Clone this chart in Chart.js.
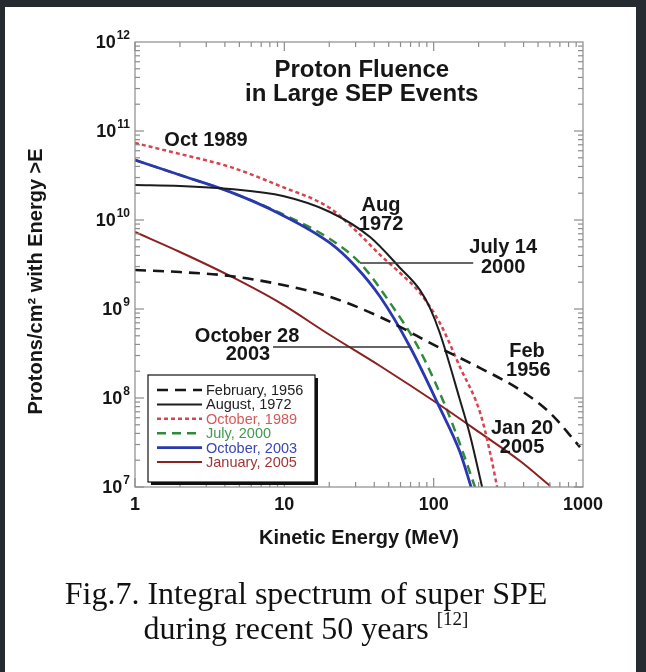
<!DOCTYPE html>
<html>
<head>
<meta charset="utf-8">
<script src="https://cdn.jsdelivr.net/npm/chart.js@4.4.1/dist/chart.umd.min.js"></script>
<style>
  html, body { margin: 0; padding: 0; background: #262b32; }
  #panel { position: absolute; left: 5px; top: 7px; width: 631px; height: 665px; background: #fff; }
  #myChart { position: absolute; left: 0; top: 0; }
  .cap { position: absolute; left: 0; width: 612px; text-align: center; line-height: 36px;
         font-family: "Liberation Serif", "Times New Roman", serif; font-size: 32px; color: #111; }
  .cap sup { font-size: 19px; vertical-align: 14px; line-height: 0; }
</style>
</head>
<body>
<div id="panel"></div>
<canvas id="myChart" width="646" height="672"></canvas>
<div class="cap" style="top:575px">Fig.7. Integral spectrum of super SPE</div>
<div class="cap" style="top:610px">during recent 50 years <sup>[12]</sup></div>
<script>
// values (energy in MeV, fluence in protons/cm2)
const xTicks = [1, 10, 100, 1000];
const yExponents = [7, 8, 9, 10, 11, 12];

const feb1956E = [1, 2, 4.33, 9.8, 20.2, 43.8, 110, 205, 379, 602, 955];
const feb1956F = [2.74e9, 2.6e9, 2.35e9, 1.86e9, 1.37e9, 8.13e8, 3.65e8, 2.17e8, 1.23e8, 6.78e7, 2.81e7];

const aug1972E = [1, 2, 4.33, 9.8, 20.2, 37.5, 59.6, 81, 94.4, 110, 150, 175, 211];
const aug1972F = [2.47e10, 2.41e10, 2.23e10, 1.86e10, 1.23e10, 6.44e9, 2.89e9, 1.63e9, 1.03e9, 5.37e8, 9.5e7, 3.84e7, 1e7];

const oct1989E = [1, 2, 4.33, 9.36, 20.2, 29.8, 43.8, 59.6, 81, 110, 150, 205, 239, 266];
const oct1989F = [7.33e10, 5.52e10, 3.95e10, 2.41e10, 1.36e10, 7.72e9, 4.05e9, 2.54e9, 1.51e9, 6.97e8, 2.23e8, 6.78e7, 2.41e7, 1e7];

const jul2000E = [1, 2, 4.33, 9.36, 20.2, 32.1, 51.1, 78.6, 119, 155, 189];
const jul2000F = [4.72e10, 3.2e10, 2.07e10, 1.2e10, 6.12e9, 3.29e9, 1.17e9, 3.74e8, 8.34e7, 2.61e7, 1e7];

const oct2003E = [1, 2, 4.33, 9.36, 20.2, 29.8, 43.8, 69.5, 110, 150, 178];
const oct2003F = [4.72e10, 3.2e10, 2.07e10, 1.17e10, 5.52e9, 3.04e9, 1.37e9, 3.74e8, 7.73e7, 2.47e7, 1e7];

const jan2005E = [1, 2, 4.33, 9.36, 20.2, 43.8, 110, 205, 379, 602];
const jan2005F = [7.33e9, 4.37e9, 2.35e9, 1.17e9, 5.1e8, 2.29e8, 8.34e7, 4.05e7, 1.96e7, 1.03e7];

const seriesLabels = ['February, 1956', 'August, 1972', 'October, 1989', 'July, 2000', 'October, 2003', 'January, 2005'];

function pts(E, F) {
    return E.map((e, i) => ({ x: e, y: F[i] }));
}

const SANS = '"Liberation Sans", Arial, Helvetica, sans-serif';

function line(ctx, x1, y1, x2, y2) {
    ctx.beginPath();
    ctx.moveTo(x1, y1);
    ctx.lineTo(x2, y2);
    ctx.stroke();
}

// frame with inward ticks on all four sides
const frameTicks = {
    id: 'frameTicks',
    afterDatasetsDraw(chart) {
        const { ctx, chartArea: a, scales: { x, y } } = chart;
        ctx.save();
        ctx.strokeStyle = '#8c8c8c';
        ctx.lineWidth = 1.2;
        ctx.strokeRect(a.left, a.top, a.right - a.left, a.bottom - a.top);
        for (let d = 0; d < 3; d++) {
            for (let m = 1; m <= 9; m++) {
                const px = x.getPixelForValue(m * Math.pow(10, d));
                const len = m === 1 ? 9 : 5;
                line(ctx, px, a.bottom, px, a.bottom - len);
                line(ctx, px, a.top, px, a.top + len);
            }
        }
        for (let d = 7; d < 12; d++) {
            for (let m = 1; m <= 9; m++) {
                const py = y.getPixelForValue(m * Math.pow(10, d));
                const len = m === 1 ? 9 : 5;
                line(ctx, a.left, py, a.left + len, py);
                line(ctx, a.right, py, a.right - len, py);
            }
        }
        ctx.restore();
    }
};

// y tick labels with exponents, axis titles, annotations, legend
const textLayer = {
    id: 'textLayer',
    afterDraw(chart) {
        const { ctx, chartArea: a, scales: { x, y } } = chart;
        const X = v => x.getPixelForValue(v);
        const Y = v => y.getPixelForValue(v);
        ctx.save();
        ctx.fillStyle = '#161616';

        // y tick labels
        yExponents.forEach(e => {
            const py = Y(Math.pow(10, e));
            const ex = String(e);
            ctx.font = 'bold 12px ' + SANS;
            const ew = ctx.measureText(ex).width;
            ctx.textAlign = 'left';
            ctx.textBaseline = 'middle';
            ctx.fillText(ex, a.left - 5 - ew, py - 6);
            ctx.font = 'bold 18px ' + SANS;
            ctx.textAlign = 'right';
            ctx.fillText('10', a.left - 6 - ew, py + 1);
        });

        // axis titles
        ctx.font = 'bold 20px ' + SANS;
        ctx.textAlign = 'center';
        ctx.textBaseline = 'middle';
        ctx.fillText('Kinetic Energy (MeV)', (a.left + a.right) / 2, a.bottom + 51);
        ctx.save();
        ctx.translate(36, (a.top + a.bottom) / 2 + 17);
        ctx.rotate(-Math.PI / 2);
        ctx.fillText('Protons/cm² with Energy >E', 0, 0);
        ctx.restore();

        // annotations
        const notes = [
            ['Proton Fluence', 33, 4.8e11, 24],
            ['in Large SEP Events', 33, 2.6e11, 24],
            ['Oct 1989', 2.99, 7.9e10, 20],
            ['Aug', 44.4, 1.44e10, 20],
            ['1972', 44.4, 9.0e9, 20],
            ['July 14', 292, 4.85e9, 20],
            ['2000', 292, 2.9e9, 20],
            ['October 28', 5.63, 4.97e8, 20],
            ['2003', 5.7, 3.12e8, 20],
            ['Feb', 422, 3.37e8, 20],
            ['1956', 430, 2.06e8, 20],
            ['Jan 20', 391, 4.6e7, 20],
            ['2005', 391, 2.8e7, 20]
        ];
        notes.forEach(([t, e, f, s]) => {
            ctx.font = 'bold ' + s + 'px ' + SANS;
            ctx.fillText(t, X(e), Y(f));
        });
        ctx.strokeStyle = '#333';
        ctx.lineWidth = 1.5;
        line(ctx, X(32), Y(3.29e9), X(184), Y(3.29e9));
        line(ctx, X(8.4), Y(3.74e8), X(69.5), Y(3.74e8));

        // legend box
        const bx = a.left + 13, by = a.top + 333, bw = 167, bh = 107;
        ctx.fillStyle = '#111';
        ctx.fillRect(bx + 3, by + 3, bw, bh);
        ctx.fillStyle = '#fff';
        ctx.fillRect(bx, by, bw, bh);
        ctx.strokeStyle = '#111';
        ctx.lineWidth = 1.2;
        ctx.strokeRect(bx, by, bw, bh);
        ctx.font = '14.5px ' + SANS;
        ctx.textAlign = 'left';
        ctx.textBaseline = 'middle';
        chart.data.datasets.forEach((ds, i) => {
            const ry = by + 15 + i * 14.4;
            ctx.strokeStyle = ds.borderColor;
            ctx.lineWidth = ds.borderWidth;
            ctx.setLineDash(ds.borderDash || []);
            line(ctx, bx + 9, ry, bx + 54, ry);
            ctx.setLineDash([]);
            ctx.fillStyle = ds.textColor;
            ctx.fillText(ds.label, bx + 58, ry + 1);
        });
        ctx.restore();
    }
};

const common = { pointRadius: 0, fill: false, tension: 0.4, cubicInterpolationMode: 'monotone' };

const data = {
    datasets: [
        Object.assign({ label: seriesLabels[0], data: pts(feb1956E, feb1956F), borderColor: '#161616', textColor: '#222', borderWidth: 2.6, borderDash: [11, 7] }, common),
        Object.assign({ label: seriesLabels[1], data: pts(aug1972E, aug1972F), borderColor: '#1c1c1c', textColor: '#222', borderWidth: 2 }, common),
        Object.assign({ label: seriesLabels[2], data: pts(oct1989E, oct1989F), borderColor: '#d8434e', textColor: '#d45a5a', borderWidth: 2.5, borderDash: [4, 3] }, common),
        Object.assign({ label: seriesLabels[3], data: pts(jul2000E, jul2000F), borderColor: '#2f8a3c', textColor: '#3f9a4c', borderWidth: 2.5, borderDash: [9, 6], order: 1 }, common),
        Object.assign({ label: seriesLabels[4], data: pts(oct2003E, oct2003F), borderColor: '#2a38b0', textColor: '#3a46b8', borderWidth: 2.8 }, common),
        Object.assign({ label: seriesLabels[5], data: pts(jan2005E, jan2005F), borderColor: '#8b2020', textColor: '#a03535', borderWidth: 2 }, common)
    ]
};

const config = {
    type: 'line',
    data: data,
    options: {
        responsive: false,
        animation: false,
        events: [],
        layout: { padding: { left: 0, top: 42, right: 63, bottom: 0 } },
        plugins: { legend: { display: false }, tooltip: { enabled: false } },
        scales: {
            x: {
                type: 'logarithmic',
                min: 1,
                max: 1000,
                grid: { display: false, drawTicks: false },
                border: { display: false },
                afterBuildTicks: s => { s.ticks = xTicks.map(v => ({ value: v })); },
                afterFit: s => { s.height = 672 - 487; },
                ticks: {
                    font: { family: SANS, size: 18, weight: 'bold' },
                    color: '#161616',
                    padding: 7,
                    maxRotation: 0,
                    autoSkip: false,
                    callback: v => String(v)
                }
            },
            y: {
                type: 'logarithmic',
                min: 1e7,
                max: 1e12,
                grid: { display: false, drawTicks: false },
                border: { display: false },
                ticks: { display: false },
                afterFit: s => { s.width = 135; }
            }
        }
    },
    plugins: [frameTicks, textLayer]
};

var myChart = new Chart(document.getElementById('myChart'), config);
</script>
</body>
</html>
